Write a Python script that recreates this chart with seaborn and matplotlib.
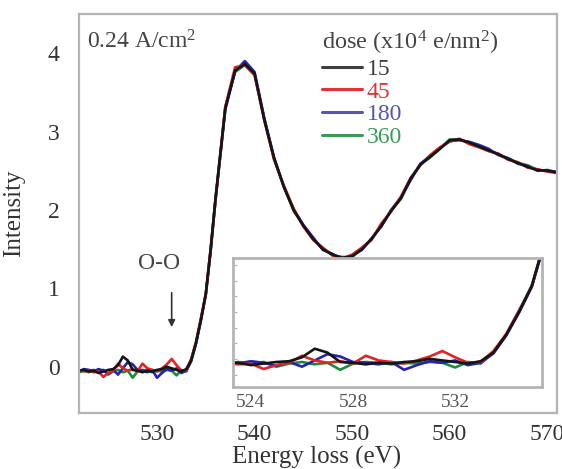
"""
O K-edge EELS spectra at 0.24 A/cm^2 for increasing electron dose,
with an inset zoom on the pre-edge (O-O) region.
"""
import matplotlib
matplotlib.use("Agg")
import matplotlib.pyplot as plt
from matplotlib.lines import Line2D
from matplotlib.ticker import MultipleLocator
import numpy as np
import pandas as pd
import seaborn as sns

sns.set_style("white")
plt.rcParams.update({
    "font.family": ["Liberation Serif", "DejaVu Serif"],
    "mathtext.fontset": "custom", "mathtext.rm": "Liberation Serif",
    "mathtext.it": "Liberation Serif:italic",
    "axes.edgecolor": "#b4b4b4", "axes.linewidth": 1.6,
})

# sampling: 0.5 eV steps through the pre-edge and onset, 1 eV afterwards
energy = np.concatenate([np.arange(522.0, 535.6, 0.5), np.arange(536.0, 571.5, 1.0)])

doses = ["15", "45", "180", "360"]
line_colors = ["#151515", "#e02424", "#2424b0", "#1f8a3e"]
text_colors = ["#404040", "#e03434", "#5656b0", "#3a9a58"]

int_15 = [-0.05, -0.04, -0.06, -0.05, -0.08, -0.06, -0.04, -0.03, 0.02, 0.13, 0.08, -0.04,
          -0.05, -0.07, -0.05, -0.06, -0.04, -0.03, 0.0, -0.02, -0.04, -0.06, -0.03,
          0.08, 0.31, 0.60, 0.93, 1.50,
          2.15, 3.30, 3.78, 3.86, 3.74, 3.15, 2.66, 2.30, 2.00, 1.80, 1.63, 1.50, 1.43, 1.39,
          1.41, 1.50, 1.63, 1.80, 1.99, 2.15, 2.40, 2.58, 2.68, 2.78, 2.89, 2.90, 2.86, 2.81,
          2.76, 2.71, 2.65, 2.60, 2.55, 2.51, 2.50, 2.48]
int_45 = [-0.04, -0.06, -0.05, -0.07, -0.06, -0.13, -0.08, -0.05, 0.04, -0.02, -0.05, -0.03,
          -0.06, 0.04, -0.02, -0.04, -0.06, -0.02, 0.03, 0.10, 0.02, -0.05, -0.04,
          0.10, 0.32, 0.62, 0.92, 1.52,
          2.12, 3.32, 3.82, 3.85, 3.72, 3.14, 2.65, 2.31, 2.02, 1.79, 1.62, 1.52, 1.42, 1.38,
          1.43, 1.52, 1.62, 1.83, 1.98, 2.17, 2.41, 2.57, 2.70, 2.80, 2.87, 2.91, 2.84, 2.80,
          2.75, 2.72, 2.64, 2.61, 2.54, 2.52, 2.49, 2.47]
int_180 = [-0.06, -0.03, -0.04, -0.06, -0.03, -0.05, -0.09, -0.04, -0.10, -0.02, 0.06, 0.03,
           -0.04, -0.05, -0.07, -0.04, -0.14, -0.08, -0.03, -0.05, -0.02, -0.08, -0.05,
           0.07, 0.30, 0.59, 0.92, 1.48,
           2.14, 3.28, 3.77, 3.90, 3.76, 3.17, 2.67, 2.29, 2.01, 1.81, 1.65, 1.49, 1.44, 1.37,
           1.42, 1.49, 1.64, 1.79, 2.00, 2.16, 2.38, 2.59, 2.69, 2.79, 2.88, 2.89, 2.87, 2.83,
           2.78, 2.70, 2.66, 2.59, 2.56, 2.50, 2.51, 2.48]
int_360 = [-0.07, -0.05, -0.07, -0.04, -0.06, -0.04, -0.10, -0.06, -0.04, -0.07, -0.05, -0.14,
           -0.06, -0.04, -0.05, -0.07, -0.05, -0.06, -0.04, -0.05, -0.11, -0.04, -0.06,
           0.09, 0.30, 0.61, 0.94, 1.49,
           2.16, 3.31, 3.76, 3.85, 3.73, 3.16, 2.64, 2.30, 1.99, 1.80, 1.63, 1.51, 1.42, 1.40,
           1.40, 1.51, 1.63, 1.81, 1.99, 2.14, 2.40, 2.58, 2.67, 2.78, 2.90, 2.90, 2.86, 2.82,
           2.76, 2.71, 2.66, 2.60, 2.57, 2.51, 2.50, 2.49]

df = pd.concat([
    pd.DataFrame({"energy": energy, "intensity": vals, "dose": d})
    for d, vals in zip(doses, [int_15, int_45, int_180, int_360])
])
palette = dict(zip(doses, line_colors))
draw_order = doses[::-1]  # lowest dose drawn last, on top

fig = plt.figure(figsize=(5.62, 4.69), dpi=100)
ax = fig.add_axes([0.1406, 0.1194, 0.8504, 0.8507])
sns.lineplot(data=df, x="energy", y="intensity", hue="dose", hue_order=draw_order,
             palette=palette, linewidth=1.9, legend=False, ax=ax)
ax.set_xlim(522.0, 571.0)
ax.set_ylim(-0.59, 4.5)
ax.set_xticks([530, 540, 550, 560, 570])
ax.set_yticks([0, 1, 2, 3, 4])
ax.tick_params(axis="x", length=0, pad=8, labelsize=17, labelcolor="#333333")
ax.tick_params(axis="y", length=3, width=1, color="#b4b4b4", pad=11, labelsize=17,
               labelcolor="#333333")
ax.set_xlabel("Energy loss (eV)", fontsize=18, color="#333333")
ax.set_ylabel("Intensity", fontsize=18, color="#333333")
ax.xaxis.set_label_coords(0.498, -0.082)
ax.yaxis.set_label_coords(-0.112, 0.50)

ax.text(0.017, 0.93, "0.24 A/cm$^2$", transform=ax.transAxes, fontsize=17,
        color="#444444", va="center", ha="left")
ax.text(530.2, 1.32, "O-O", fontsize=17, color="#444444", ha="center", va="center")
ax.annotate("", xy=(531.5, 0.47), xytext=(531.5, 0.98),
            arrowprops=dict(arrowstyle="-|>", color="#333333", lw=1.2, mutation_scale=10))

handles = [Line2D([], [], color=c, lw=2.2) for c in text_colors]
leg = ax.legend(handles, doses, title="dose (x10$^4$ e/nm$^2$)", loc="upper left",
                bbox_to_anchor=(0.508, 0.962), frameon=False, fontsize=17,
                title_fontsize=17.5, alignment="left", handlelength=1.7,
                handletextpad=0.2, labelspacing=0.05, borderpad=0, borderaxespad=0)
leg.get_title().set_color("#444444")
for txt, c in zip(leg.get_texts(), text_colors):
    txt.set_color(c)

# inset: pre-edge region
axin = fig.add_axes([0.4146, 0.1748, 0.5498, 0.2751])
sns.lineplot(data=df, x="energy", y="intensity", hue="dose", hue_order=draw_order,
             palette=palette, linewidth=1.9, legend=False, ax=axin)
axin.set_xlim(523.3, 535.4)
axin.set_ylim(-0.36, 1.29)
axin.set_xticks([524, 528, 532])
axin.yaxis.set_major_locator(MultipleLocator(0.2))
axin.set_yticklabels([])
axin.set_xlabel("")
axin.set_ylabel("")
axin.tick_params(axis="x", direction="in", length=3, color="#b4b4b4", pad=5,
                 labelsize=14, labelcolor="#555555")
axin.tick_params(axis="y", direction="in", length=3, color="#b4b4b4", left=True)
for sp in axin.spines.values():
    sp.set_color("#b4b4b4")
    sp.set_linewidth(2.0)

fig.savefig("out.png", dpi=100)
plt.close(fig)
